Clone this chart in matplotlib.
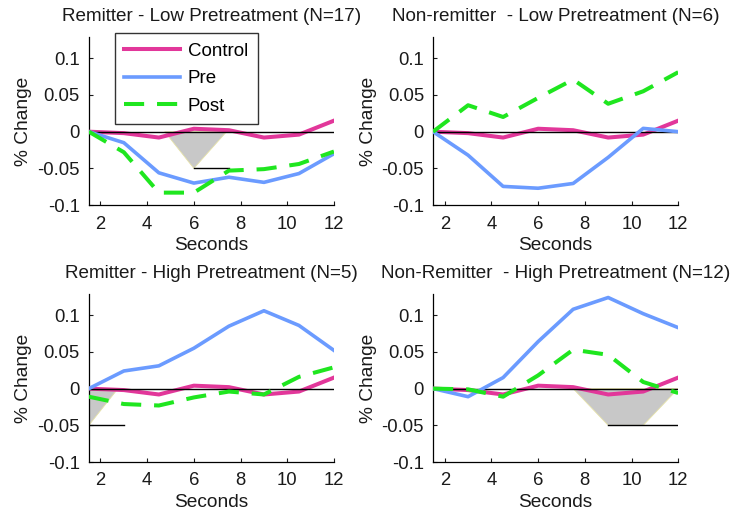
import numpy as np
import matplotlib
matplotlib.use("Agg")
import matplotlib.pyplot as plt
from matplotlib.patches import Polygon

plt.rcParams["font.family"] = ["Liberation Sans", "DejaVu Sans"]
plt.rcParams["axes.unicode_minus"] = False
plt.rcParams["xtick.direction"] = "in"
plt.rcParams["ytick.direction"] = "in"

# time points (s)
seconds = [1.5, 3, 4.5, 6, 7.5, 9, 10.5, 12]

control = [0, -0.002, -0.008, 0.004, 0.002, -0.008, -0.004, 0.015]

titles = ["Remitter - Low Pretreatment (N=17)",
          "Non-remitter  - Low Pretreatment (N=6)",
          "Remitter - High Pretreatment (N=5)",
          "Non-Remitter  - High Pretreatment (N=12)"]

pre_rl = [0, -0.015, -0.056, -0.070, -0.062, -0.069, -0.057, -0.030]
post_rl = [0, -0.028, -0.083, -0.083, -0.053, -0.051, -0.044, -0.027]

pre_nl = [0, -0.032, -0.0745, -0.077, -0.0705, -0.035, 0.0045, 0]
post_nl = [0, 0.036, 0.020, 0.046, 0.071, 0.038, 0.055, 0.081]

pre_rh = [0, 0.024, 0.031, 0.055, 0.085, 0.106, 0.086, 0.052]
post_rh = [-0.011, -0.021, -0.023, -0.012, -0.004, -0.008, 0.016, 0.029]

pre_nh = [0, -0.011, 0.015, 0.064, 0.108, 0.124, 0.102, 0.083]
post_nh = [0, -0.001, -0.011, 0.018, 0.053, 0.046, 0.009, -0.006]

pre_all = [pre_rl, pre_nl, pre_rh, pre_nh]
post_all = [post_rl, post_nl, post_rh, post_nh]

# shaded significance areas (x, y) and bar at -0.05
shade_x = [[4.75, 6, 7.4], None, [1.5, 1.5, 2.75], [7.5, 9, 10.5, 12]]
shade_y = [[0, -0.05, 0], None, [0, -0.05, 0], [0, -0.05, -0.05, 0]]
bar_x = [[6, 7.5], None, [1.5, 3], [9, 12]]

c_ctrl = "#e2379a"
c_pre = "#6b9bff"
c_post = "#1fe61f"
c_txt = "#1a1a1a"

fig = plt.figure(figsize=(7.34, 5.18), dpi=100)
pos = [[0.121, 0.604, 0.334, 0.324],
       [0.590, 0.604, 0.334, 0.324],
       [0.121, 0.108, 0.334, 0.324],
       [0.590, 0.108, 0.334, 0.324]]

for k in range(4):
    ax = fig.add_axes(pos[k])
    if shade_x[k] is not None:
        poly = Polygon(np.column_stack([shade_x[k], shade_y[k]]),
                       closed=True, facecolor="#c8c8c8",
                       edgecolor="#e6e2a8", lw=0.6, zorder=2)
        ax.add_patch(poly)
        ax.plot(bar_x[k], [-0.05, -0.05], color="black", lw=1.0, zorder=2)
    ax.plot(seconds, control, color=c_ctrl, lw=2.9, label="Control", zorder=3)
    ax.plot([1.5, 12], [0, 0], color="black", lw=1.0, zorder=3.5)
    ax.plot(seconds, pre_all[k], color=c_pre, lw=2.6, label="Pre", zorder=4)
    ax.plot(seconds, post_all[k], color=c_post, lw=2.9, ls=(0, (5, 3.2)),
            label="Post", zorder=5)

    ax.set_xlim(1.5, 12)
    ax.set_ylim(-0.1, 0.1285)
    ax.set_xticks([2, 4, 6, 8, 10, 12])
    ax.set_yticks([-0.1, -0.05, 0, 0.05, 0.1])
    ax.set_yticklabels(["-0.1", "-0.05", "0", "0.05", "0.1"])
    ax.spines["top"].set_visible(False)
    ax.spines["right"].set_visible(False)
    ax.spines["left"].set_linewidth(0.9)
    ax.spines["bottom"].set_linewidth(0.9)
    ax.tick_params(labelsize=13.3, length=3, width=0.8, colors=c_txt)
    ax.tick_params(axis="x", pad=7.5)
    ax.tick_params(axis="y", pad=6.5)
    ax.set_xlabel("Seconds", fontsize=13.8, labelpad=3, color=c_txt)
    ax.set_ylabel("% Change", fontsize=13.8, labelpad=3.5, color=c_txt)
    ax.set_title(titles[k], fontsize=13.6, pad=11.5, color=c_txt)

    if k == 0:
        leg = ax.legend(loc="upper left", bbox_to_anchor=(0.106, 1.024),
                        fontsize=13.5, frameon=True, fancybox=False,
                        handlelength=3.0, handletextpad=0.4,
                        labelspacing=0.55, borderpad=0.5,
                        borderaxespad=0)
        leg.get_frame().set_edgecolor("black")
        leg.get_frame().set_linewidth(1.0)

plt.savefig("out.png", dpi=100)
